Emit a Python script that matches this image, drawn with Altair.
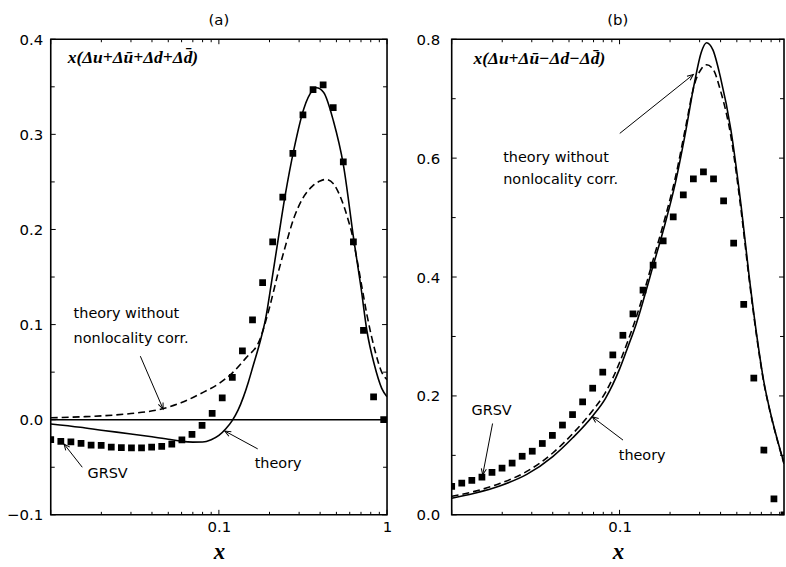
import altair as alt
import pandas as pd

# ---------------- data ----------------
X_GRID = [0.0100, 0.01148, 0.01318, 0.01514, 0.01738, 0.01995, 0.02291, 0.02630, 0.03020, 0.03467,
          0.03981, 0.04571, 0.05248, 0.06026, 0.06918, 0.07943, 0.09120, 0.1047, 0.1202, 0.1380,
          0.1585, 0.1820, 0.2089, 0.2399, 0.2754, 0.3162, 0.3631, 0.4169, 0.4786, 0.5495,
          0.6310, 0.7244, 0.8318, 0.9550]
GRSV_A = [-0.021, -0.0227, -0.0234, -0.025, -0.0266, -0.027, -0.0287, -0.0294, -0.0297, -0.0297,
          -0.0287, -0.028, -0.0258, -0.0213, -0.0153, -0.0059, 0.0067, 0.023, 0.0445, 0.0724,
          0.105, 0.144, 0.187, 0.234, 0.280, 0.3205, 0.347, 0.352, 0.328, 0.271,
          0.187, 0.094, 0.024, 0.0]
GRSV_B = [0.048, 0.0534, 0.058, 0.0634, 0.0713, 0.0785, 0.087, 0.0985, 0.107, 0.120,
          0.1336, 0.151, 0.1686, 0.190, 0.213, 0.240, 0.269, 0.302, 0.338, 0.378,
          0.42, 0.461, 0.501, 0.538, 0.565, 0.577, 0.565, 0.528, 0.457, 0.354,
          0.23, 0.109, 0.027, 0.0]

TH_A_X = [0.01, 0.015, 0.02, 0.03, 0.04, 0.05, 0.06, 0.07, 0.08, 0.09, 0.10, 0.11, 0.12, 0.13,
          0.14, 0.15, 0.16, 0.174, 0.19, 0.205, 0.224, 0.248, 0.28, 0.32, 0.36, 0.38, 0.42, 0.48,
          0.55, 0.636, 0.70, 0.76, 0.84, 0.93, 1.0]
TH_A_Y = [-0.0045, -0.008, -0.011, -0.015, -0.018, -0.0205, -0.0228, -0.0236, -0.0235, -0.021,
          -0.0165, -0.0095, -0.001, 0.010, 0.024, 0.040, 0.057, 0.079, 0.107, 0.143, 0.187, 0.236,
          0.285, 0.327, 0.346, 0.349, 0.344, 0.314, 0.268, 0.188, 0.139, 0.093, 0.058, 0.033, 0.024]

NC_A_X = [0.01, 0.015, 0.02, 0.03, 0.045, 0.06, 0.077, 0.1, 0.12, 0.145, 0.174, 0.20, 0.224, 0.25,
          0.28, 0.316, 0.36, 0.40, 0.433, 0.48, 0.52, 0.56, 0.59, 0.62, 0.66, 0.70, 0.76, 0.85,
          0.93, 1.0]
NC_A_Y = [0.002, 0.003, 0.004, 0.0065, 0.011, 0.018, 0.027, 0.038, 0.049, 0.065, 0.083, 0.118,
          0.153, 0.184, 0.2125, 0.233, 0.2455, 0.251, 0.2526, 0.248, 0.237, 0.222, 0.209, 0.195,
          0.17, 0.145, 0.11, 0.072, 0.050, 0.042]

TH_B_X = [0.01, 0.0135, 0.0195, 0.028, 0.04, 0.0528, 0.069, 0.0825, 0.1, 0.112, 0.126, 0.14,
          0.156, 0.187, 0.215, 0.246, 0.28, 0.307, 0.33, 0.36, 0.40, 0.46, 0.53, 0.59, 0.66, 0.72,
          0.80, 0.88, 0.955]
TH_B_Y = [0.028, 0.036, 0.049, 0.068, 0.098, 0.130, 0.166, 0.196, 0.245, 0.282, 0.322, 0.365,
          0.412, 0.49, 0.558, 0.640, 0.728, 0.778, 0.794, 0.782, 0.735, 0.649, 0.52, 0.405, 0.298,
          0.228, 0.167, 0.122, 0.087]
NC_B_X = TH_B_X
NC_B_Y = [0.031, 0.039, 0.053, 0.073, 0.104, 0.137, 0.175, 0.206, 0.256, 0.292, 0.333, 0.375,
          0.422, 0.50, 0.567, 0.648, 0.725, 0.750, 0.757, 0.750, 0.713, 0.638, 0.512, 0.40, 0.295,
          0.226, 0.166, 0.121, 0.086]

# tick values / labels
XT_MAJOR = [0.01, 0.1, 1.0]
XT_MINOR = [0.02, 0.03, 0.04, 0.05, 0.06, 0.07, 0.08, 0.09, 0.2, 0.3, 0.4, 0.5, 0.6, 0.7, 0.8, 0.9]
YT_A_MAJOR = [-0.1, 0.0, 0.1, 0.2, 0.3, 0.4]
YT_A_MINOR = [-0.05, 0.05, 0.15, 0.25, 0.35]
YT_B_MAJOR = [0.0, 0.2, 0.4, 0.6, 0.8]
YT_B_MINOR = [0.1, 0.3, 0.5, 0.7]

# annotations
LABEL_A = "x(Δu+Δū+Δd+Δd̄)"
LABEL_B = "x(Δu+Δū−Δd−Δd̄)"
LABEL_POS_A = (0.01261, 0.3805)
LABEL_POS_B = (0.01348, 0.766)
TEXT_A = [("theory without", 0.01368, 0.111), ("nonlocality corr.", 0.01368, 0.0847),
          ("GRSV", 0.01655, -0.057), ("theory", 0.1633, -0.0465)]
TEXT_B = [("theory without", 0.02027, 0.601), ("nonlocality corr.", 0.02027, 0.564),
          ("GRSV", 0.01312, 0.175), ("theory", 0.0989, 0.0985)]
ARROWS_A = [(0.0341, 0.0668, 0.0466, 0.0112, 156.5),
            (0.0154, -0.050, 0.01199, -0.0255, 321.7),
            (0.1702, -0.0307, 0.1084, -0.0119, 298.6)]
ARROWS_B = [(0.1003, 0.6416, 0.2753, 0.7407, 51.4),
            (0.01752, 0.1536, 0.0153, 0.0673, 190.9),
            (0.1049, 0.1257, 0.0688, 0.1648, 307.1)]

SANS = "DejaVu Sans"
SERIF = "Liberation Serif"


def panel(title, xdom, ydom, W, H, grsv, th, nc, xlabels, ymaj, ymin, ylabpad, yext,
          label, label_pos, texts, arrows, zero_line):
    xs = alt.Scale(type="log", domain=xdom, nice=False)
    ys = alt.Scale(domain=ydom, nice=False, zero=False)
    xaxis = alt.Axis(values=xlabels, format="~g", labelPadding=5, title="x",
                     titleFont=SERIF, titleFontStyle="italic", titleFontWeight="bold",
                     titleFontSize=23, titleY=44, titleBaseline="alphabetic",
                     labelFlush=False, labelOverlap=False)
    yaxis = alt.Axis(values=ymaj, format=".1f", labelPadding=ylabpad, title=None,
                     minExtent=yext, maxExtent=yext, labelOverlap=False)

    def X(f="x"):
        return alt.X(f"{f}:Q", scale=xs, axis=xaxis)

    def Y(f="y"):
        return alt.Y(f"{f}:Q", scale=ys, axis=yaxis)

    layers = []
    df_g = pd.DataFrame({"x": X_GRID, "y": grsv})
    layers.append(alt.Chart(df_g).mark_square(size=46, color="black", opacity=1, clip=True)
                  .encode(x=X(), y=Y()))
    df_t = pd.DataFrame({"x": th[0], "y": th[1]})
    layers.append(alt.Chart(df_t).mark_line(color="black", strokeWidth=1.6,
                                            interpolate="monotone", clip=True)
                  .encode(x=X(), y=Y()))
    df_n = pd.DataFrame({"x": nc[0], "y": nc[1]})
    layers.append(alt.Chart(df_n).mark_line(color="black", strokeWidth=1.6, strokeDash=[7, 4],
                                            interpolate="monotone", clip=True)
                  .encode(x=X(), y=Y()))
    if zero_line:
        layers.append(alt.Chart(pd.DataFrame({"y": [0.0]})).mark_rule(color="black", strokeWidth=1.4)
                      .encode(y=Y()))

    # inward ticks
    xin = lambda v: [t for t in v if xdom[0] <= t <= xdom[1]]
    for vals, L in ((xin(XT_MAJOR), 5), (xin(XT_MINOR), 3)):
        d = pd.DataFrame({"x": vals})
        layers.append(alt.Chart(d).mark_rule(color="black", strokeWidth=1)
                      .encode(x=X(), y=alt.value(H), y2=alt.value(H - L)))
        layers.append(alt.Chart(d).mark_rule(color="black", strokeWidth=1)
                      .encode(x=X(), y=alt.value(0), y2=alt.value(L)))
    for vals, L in ((ymaj, 5), (ymin, 4)):
        d = pd.DataFrame({"y": vals})
        layers.append(alt.Chart(d).mark_rule(color="black", strokeWidth=1)
                      .encode(y=Y(), x=alt.value(0), x2=alt.value(L)))
        layers.append(alt.Chart(d).mark_rule(color="black", strokeWidth=1)
                      .encode(y=Y(), x=alt.value(W - L), x2=alt.value(W)))

    # text annotations
    d_txt = pd.DataFrame({"t": [t[0] for t in texts], "x": [t[1] for t in texts],
                          "y": [t[2] for t in texts]})
    layers.append(alt.Chart(d_txt).mark_text(align="left", baseline="middle", font=SANS,
                                             fontSize=14.5, color="black")
                  .encode(x=X(), y=Y(), text="t:N"))
    d_lab = pd.DataFrame({"t": [label], "x": [label_pos[0]], "y": [label_pos[1]]})
    layers.append(alt.Chart(d_lab).mark_text(align="left", baseline="middle", font=SERIF,
                                             fontStyle="italic", fontWeight="bold",
                                             fontSize=17.5, color="black")
                  .encode(x=X(), y=Y(), text="t:N"))

    # arrows
    d_arr = pd.DataFrame({"x1": [a[0] for a in arrows], "y1": [a[1] for a in arrows],
                          "x2": [a[2] for a in arrows], "y2": [a[3] for a in arrows],
                          "ang": [a[4] for a in arrows]})
    layers.append(alt.Chart(d_arr).mark_rule(color="black", strokeWidth=1)
                  .encode(x=X("x1"), x2="x2:Q", y=Y("y1"), y2="y2:Q"))
    layers.append(alt.Chart(d_arr).mark_point(shape="M -0.42 1 L 0 0 L 0.42 1", size=150,
                                              filled=False, color="black", strokeWidth=1,
                                              opacity=1)
                  .encode(x=X("x2"), y=Y("y2"), angle=alt.Angle("ang:Q", scale=None)))

    return alt.layer(*layers).properties(
        width=W, height=H,
        title=alt.Title(title, font=SANS, fontSize=15, fontWeight="normal",
                        anchor="middle", offset=4, color="black"))


pa = panel("(a)", [0.01, 1.0], [-0.1, 0.4], 338, 478, GRSV_A, (TH_A_X, TH_A_Y),
           (NC_A_X, NC_A_Y), [0.1, 1.0], YT_A_MAJOR, YT_A_MINOR, 8, 50,
           LABEL_A, LABEL_POS_A, TEXT_A, ARROWS_A, True)
pb = panel("(b)", [0.01, 0.955], [0.0, 0.8], 334, 478, GRSV_B, (TH_B_X, TH_B_Y),
           (NC_B_X, NC_B_Y), [0.1], YT_B_MAJOR, YT_B_MINOR, 12, 40,
           LABEL_B, LABEL_POS_B, TEXT_B, ARROWS_B, False)

chart = alt.hconcat(pa, pb, spacing=18).properties(
    padding={"left": 0, "top": 11, "right": 0, "bottom": 0}, background="white"
).configure_view(stroke="black", strokeWidth=1.6).configure_axis(
    labelFont=SANS, labelFontSize=15, labelColor="black", domain=False, ticks=False,
    grid=False
)

chart.save("out.html", embed_options={"renderer": "svg", "actions": False})
